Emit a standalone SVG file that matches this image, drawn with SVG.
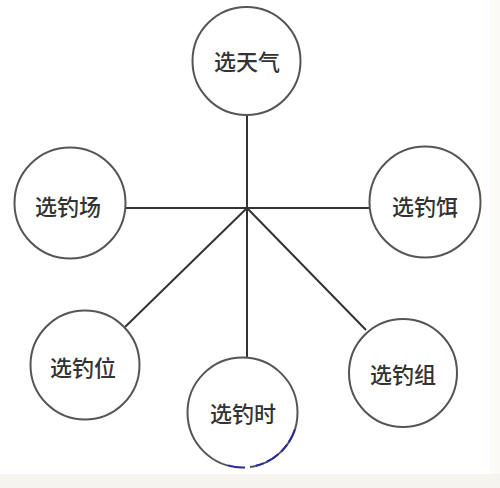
<svg xmlns="http://www.w3.org/2000/svg" width="500" height="488" viewBox="0 0 500 488">
<style>
.n{fill:#fff;stroke:#555;stroke-width:2}
.t{font-family:"Noto Sans CJK SC","Noto Sans",sans-serif;font-size:22px;font-weight:500;fill:#333;text-anchor:middle;dominant-baseline:central}
.c{stroke:#333;stroke-width:2;fill:none}
</style>
<rect width="500" height="488" fill="#fff"/>
<rect x="0" y="474" width="500" height="14" fill="#f6f4ee"/>
<rect x="490" y="0" width="10" height="474" fill="#fbfaf7"/>
<g id="connectors">
<line class="c" x1="247" y1="115" x2="247" y2="358"/>
<line class="c" x1="126" y1="208" x2="369" y2="208"/>
<line class="c" x1="247" y1="208" x2="125" y2="327"/>
<line class="c" x1="247" y1="208" x2="366" y2="330"/>
</g>
<g id="n-weather"><circle class="n" cx="246.5" cy="61" r="54"/><text class="t" x="247" y="60">选天气</text></g>
<g id="n-site"><circle class="n" cx="70" cy="203" r="55.5"/><text class="t" x="68" y="205">选钓场</text></g>
<g id="n-bait"><circle class="n" cx="425" cy="202" r="55.5"/><text class="t" x="425" y="205">选钓饵</text></g>
<g id="n-position"><circle class="n" cx="85" cy="365" r="54.5"/><text class="t" x="83" y="366">选钓位</text></g>
<g id="n-time"><circle class="n" cx="242.5" cy="412.5" r="55"/><path d="M294.8 429.5 A55 55 0 0 1 256 465.8" fill="none" stroke="#2a2aa0" stroke-width="2" stroke-dasharray="14 3 9 4"/><path d="M250 467 A55 55 0 0 1 228 465.5" fill="none" stroke="#fff" stroke-width="3"/><path d="M245 467.4 A55 55 0 0 1 228 465.5" fill="none" stroke="#2a2aa0" stroke-width="2"/><text class="t" x="243" y="412">选钓时</text></g>
<g id="n-rig"><circle class="n" cx="403" cy="373" r="54"/><text class="t" x="403" y="373">选钓组</text></g>
</svg>
